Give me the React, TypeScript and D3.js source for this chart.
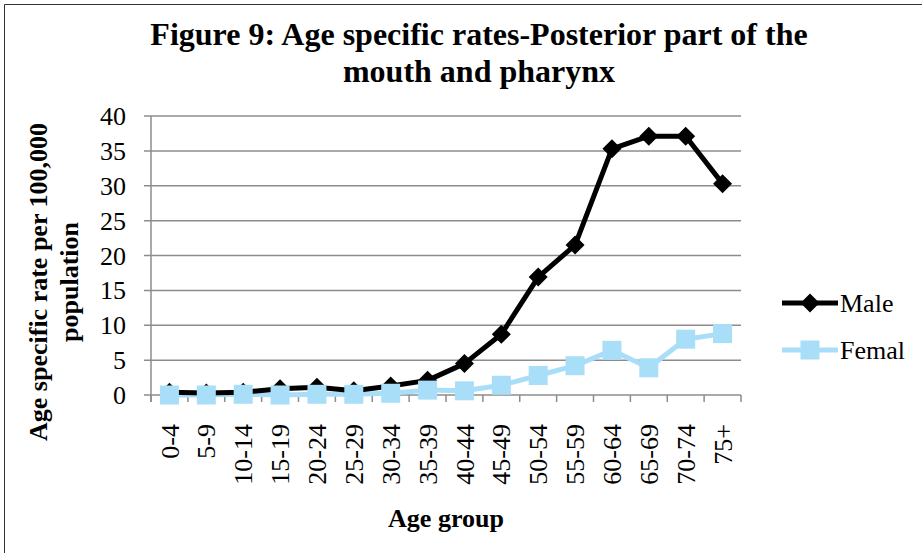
import React, { useEffect, useRef } from "react";
import * as d3 from "d3";

const categories = ["0-4","5-9","10-14","15-19","20-24","25-29","30-34","35-39","40-44","45-49","50-54","55-59","60-64","65-69","70-74","75+"];
const maleValues = [0.4,0.3,0.4,0.9,1.1,0.6,1.3,2.1,4.5,8.7,16.9,21.5,35.3,37.1,37.1,30.3];
const femaleValues = [0,0,0.1,0,0.1,0.1,0.25,0.7,0.6,1.4,2.8,4.2,6.4,3.9,8.0,8.8];
const yTicks = [0,5,10,15,20,25,30,35,40];
const seriesNames = ["Male", "Femal"];
const titleLines = ["Figure 9: Age specific rates-Posterior part of the", "mouth and pharynx"];
const yTitleLines = ["Age specific rate per 100,000", "population"];
const xTitle = "Age group";

const W = 922, H = 553;
const FONT = "'Liberation Serif', 'Times New Roman', serif";
const MALE = "#000000";
const FEMALE = "#A9DEF8";
const GRID = "#8C8C8C";
const FS = 26;

export default function App() {
  const ref = useRef<SVGSVGElement>(null);
  useEffect(() => {
    document.body.style.margin = "0";
    const svg = d3.select(ref.current);
    svg.selectAll("*").remove();

    const x0 = 151, x1 = 741, yTop = 116, yBot = 395;
    const x = d3.scalePoint<string>().domain(categories).range([x0, x1]).padding(0.5);
    const step = x.step();
    const y = d3.scaleLinear().domain([0, 40]).range([yBot, yTop]);

    svg.append("rect").attr("x", 0).attr("y", 0).attr("width", W).attr("height", H).attr("fill", "#fff");
    // frame
    svg.append("path").attr("d", `M4.5,${H} V4.5 H${W}`).attr("fill", "none").attr("stroke", "#333").attr("stroke-width", 1);

    // title
    titleLines.forEach((t, i) => {
      svg.append("text").attr("x", 479).attr("y", 45 + i * 37).attr("text-anchor", "middle")
        .attr("font-family", FONT).attr("font-weight", "bold").attr("font-size", 32).attr("fill", "#000").text(t);
    });

    // gridlines
    yTicks.forEach(v => {
      svg.append("line").attr("x1", x0 - 7).attr("x2", x1).attr("y1", y(v)).attr("y2", y(v))
        .attr("stroke", GRID).attr("stroke-width", 1.5);
      svg.append("text").attr("x", 126).attr("y", y(v)).attr("dy", "0.35em").attr("text-anchor", "end")
        .attr("font-family", FONT).attr("font-size", FS).attr("fill", "#000").text(v);
    });
    // y axis line
    svg.append("line").attr("x1", x0).attr("x2", x0).attr("y1", yTop).attr("y2", yBot + 7)
      .attr("stroke", GRID).attr("stroke-width", 1.5);
    // x ticks
    d3.range(categories.length + 1).forEach(i => {
      const xx = x0 + i * step;
      svg.append("line").attr("x1", xx).attr("x2", xx).attr("y1", yBot).attr("y2", yBot + 7)
        .attr("stroke", GRID).attr("stroke-width", 1.5);
    });
    // x labels
    categories.forEach(c => {
      svg.append("text").attr("transform", `translate(${x(c)},424) rotate(-90)`)
        .attr("text-anchor", "end").attr("dy", "0.35em")
        .attr("font-family", FONT).attr("font-size", FS).attr("fill", "#000").text(c);
    });

    // axis titles
    svg.append("text").attr("x", (x0 + x1) / 2).attr("y", 527).attr("text-anchor", "middle")
      .attr("font-family", FONT).attr("font-weight", "bold").attr("font-size", FS).attr("fill", "#000").text(xTitle);
    yTitleLines.forEach((t, i) => {
      svg.append("text").attr("transform", `translate(${38 + i * 31},282) rotate(-90)`)
        .attr("text-anchor", "middle").attr("dy", "0.35em")
        .attr("font-family", FONT).attr("font-weight", "bold").attr("font-size", FS).attr("fill", "#000").text(t);
    });

    const line = d3.line<number>().x((_, i) => x(categories[i])!).y(d => y(d));
    const diamond = (cx: number, cy: number, r: number) => `M${cx},${cy - r}L${cx + r},${cy}L${cx},${cy + r}L${cx - r},${cy}Z`;

    // female series
    svg.append("path").datum(femaleValues).attr("d", line).attr("fill", "none")
      .attr("stroke", FEMALE).attr("stroke-width", 5).attr("stroke-linejoin", "round");
    // male series
    svg.append("path").datum(maleValues).attr("d", line).attr("fill", "none")
      .attr("stroke", MALE).attr("stroke-width", 5).attr("stroke-linejoin", "round");
    maleValues.forEach((v, i) => {
      svg.append("path").attr("d", diamond(x(categories[i])!, y(v), 9.5)).attr("fill", MALE);
    });
    femaleValues.forEach((v, i) => {
      const s = 19;
      svg.append("rect").attr("x", x(categories[i])! - s / 2).attr("y", y(v) - s / 2)
        .attr("width", s).attr("height", s).attr("fill", FEMALE);
    });

    // legend
    const legY = [303, 350];
    [MALE, FEMALE].forEach((col, i) => {
      svg.append("line").attr("x1", 782).attr("x2", 838).attr("y1", legY[i]).attr("y2", legY[i])
        .attr("stroke", col).attr("stroke-width", 5);
      if (i === 0) svg.append("path").attr("d", diamond(810, legY[i], 9.5)).attr("fill", col);
      else svg.append("rect").attr("x", 810 - 9.5).attr("y", legY[i] - 9.5).attr("width", 19).attr("height", 19).attr("fill", col);
      svg.append("text").attr("x", 840).attr("y", legY[i] + 9).attr("font-family", FONT)
        .attr("font-size", FS).attr("fill", "#000").text(seriesNames[i]);
    });
  }, []);
  return <svg ref={ref} width={W} height={H} style={{ display: "block" }} />;
}
